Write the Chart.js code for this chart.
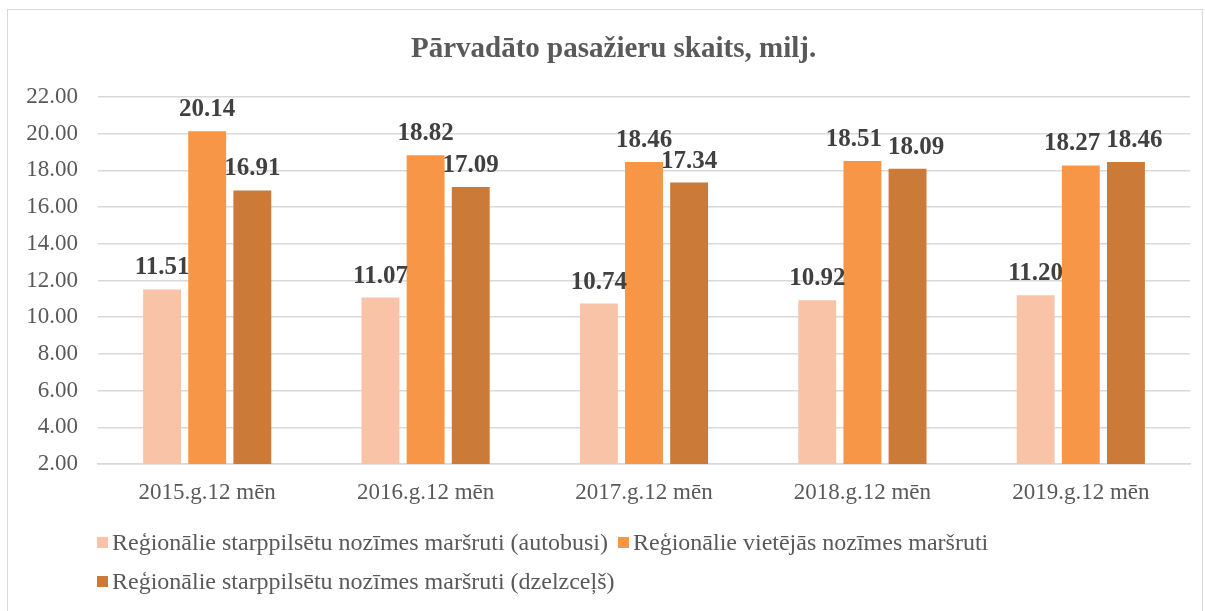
<!DOCTYPE html>
<html>
<head>
<meta charset="utf-8">
<script src="https://cdn.jsdelivr.net/npm/chart.js@4"></script>
<style>
  body { margin: 0; background: #fff; }
  #frame { position: absolute; left: 7px; top: 9px; width: 1194px; height: 620px; border: 1px solid #d9d9d9; }
  #wrap { position: absolute; left: 0; top: 0; width: 1205px; height: 611px; }
  #title { position: absolute; left: 411px; top: 31px; width: 400px; text-align: center; white-space: nowrap;
           font-family: "Liberation Serif", serif; font-size: 29px; font-weight: bold; color: #595959; }
  .legend { position: absolute; font-family: "Liberation Serif", serif; font-size: 24px; color: #595959; white-space: nowrap; }
  .legend span.box { display: inline-block; width: 11px; height: 11px; margin-right: 4px; vertical-align: 2px; }
</style>
</head>
<body>
<div id="frame"></div>
<div id="wrap"><canvas id="chart"></canvas></div>
<div id="title">Pārvadāto pasažieru skaits, milj.</div>
<div class="legend" id="leg1" style="left:97px; top:529px;"></div>
<div class="legend" id="leg2" style="left:618px; top:529px;"></div>
<div class="legend" id="leg3" style="left:97px; top:568px;"></div>
<script>
const categories = ["2015.g.12 mēn", "2016.g.12 mēn", "2017.g.12 mēn", "2018.g.12 mēn", "2019.g.12 mēn"];
const seriesNames = [
  "Reģionālie starppilsētu nozīmes maršruti (autobusi)",
  "Reģionālie vietējās nozīmes maršruti",
  "Reģionālie starppilsētu nozīmes maršruti (dzelzceļš)"
];
const autobusi = [11.51, 11.07, 10.74, 10.92, 11.20];
const vietejas = [20.14, 18.82, 18.46, 18.51, 18.27];
const dzelzcels = [16.91, 17.09, 17.34, 18.09, 18.46];
const colors = ["#f9c3a7", "#f79646", "#cc7a38"];

// legenda ar HTML, lai rindas sāktos pie kreisās malas
[["leg1", 0], ["leg2", 1], ["leg3", 2]].forEach(([id, i]) => {
  document.getElementById(id).innerHTML =
    '<span class="box" style="background:' + colors[i] + '"></span>' + seriesNames[i];
});

// vērtību uzraksti virs stabiņiem (ja pārklājas - pabīda uz sāniem)
const barLabels = {
  id: "barLabels",
  afterDatasetsDraw(chart) {
    const ctx = chart.ctx;
    ctx.save();
    ctx.font = "bold 25px 'Liberation Serif'";
    ctx.fillStyle = "#404040";
    ctx.textAlign = "center";
    ctx.textBaseline = "alphabetic";
    const n = chart.data.labels.length;
    for (let j = 0; j < n; j++) {
      const items = chart.data.datasets.map((ds, i) => {
        const bar = chart.getDatasetMeta(i).data[j];
        const txt = ds.data[j].toFixed(2);
        return { txt, x: bar.x, y: bar.y - 15, w: ctx.measureText(txt).width };
      });
      for (let k = 0; k < items.length - 1; k++) {
        const a = items[k], b = items[k + 1];
        const over = (a.x + a.w / 2 + 6) - (b.x - b.w / 2);
        if (over > 0 && Math.abs(a.y - b.y) < 20) {
          a.x -= over / 2;
          b.x += over / 2;
        }
      }
      items.forEach(it => ctx.fillText(it.txt, it.x, it.y));
    }
    ctx.restore();
  }
};

new Chart(document.getElementById("chart"), {
  type: "bar",
  data: {
    labels: categories,
    datasets: [
      { label: seriesNames[0], data: autobusi, backgroundColor: colors[0] },
      { label: seriesNames[1], data: vietejas, backgroundColor: colors[1] },
      { label: seriesNames[2], data: dzelzcels, backgroundColor: colors[2] }
    ]
  },
  options: {
    responsive: true,
    maintainAspectRatio: false,
    animation: false,
    datasets: { bar: { categoryPercentage: 0.62, barPercentage: 0.84 } },
    layout: { padding: { left: 0, right: 15, top: 97, bottom: 0 } },
    plugins: {
      legend: { display: false },
      tooltip: { enabled: false }
    },
    scales: {
      x: {
        grid: { display: false, drawTicks: false },
        border: { color: "#d9d9d9", width: 1.5 },
        ticks: { color: "#595959", padding: 15, font: { family: "Liberation Serif", size: 23 } },
        afterFit(scale) { scale.height = 147; }
      },
      y: {
        min: 2, max: 22,
        grid: { color: "#d9d9d9", lineWidth: 1.5, drawTicks: false },
        border: { display: false },
        ticks: {
          stepSize: 2, padding: 20, color: "#595959",
          font: { family: "Liberation Serif", size: 23 },
          callback: v => v.toFixed(2)
        },
        afterFit(scale) { scale.width = 98; }
      }
    }
  },
  plugins: [barLabels]
});
</script>
</body>
</html>
